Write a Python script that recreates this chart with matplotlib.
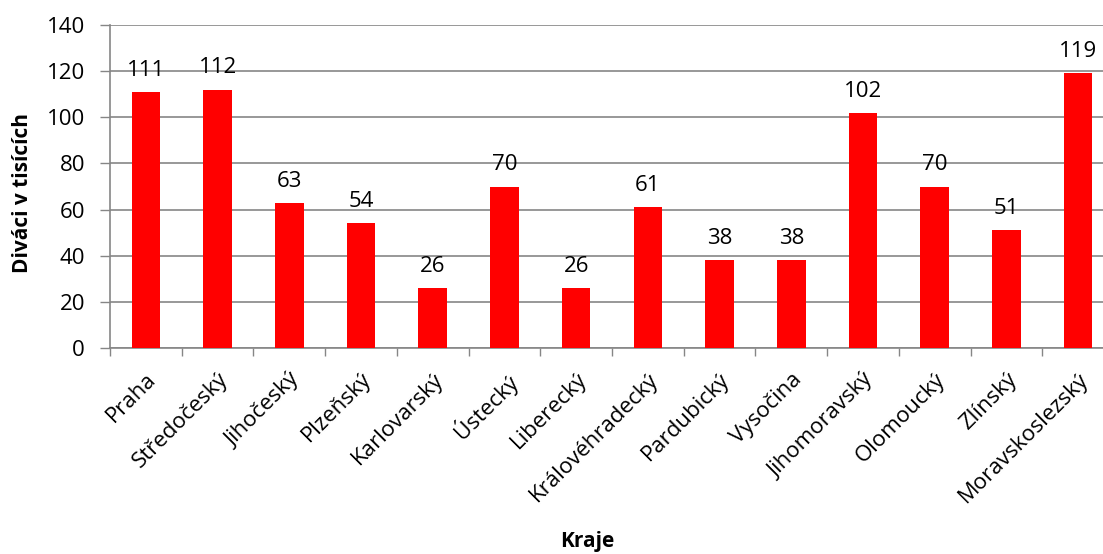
import numpy as np
import matplotlib
matplotlib.use("Agg")
import matplotlib.pyplot as plt

plt.rcParams['font.family'] = ['Open Sans', 'DejaVu Sans']

kraje = ["Praha", "Středočeský", "Jihočeský", "Plzeňský", "Karlovarský", "Ústecký",
         "Liberecký", "Královéhradecký", "Pardubický", "Vysočina", "Jihomoravský",
         "Olomoucký", "Zlínský", "Moravskoslezský"]
divaci = [111, 112, 63, 54, 26, 70, 26, 61, 38, 38, 102, 70, 51, 119]
y_ticks = [0, 20, 40, 60, 80, 100, 120, 140]

W, H = 1103, 554
fig = plt.figure(figsize=(W / 100, H / 100), dpi=100)
ax = fig.add_axes([110 / W, (H - 348) / H, (1114 - 110) / W, (348 - 25) / H])

x = np.arange(len(kraje))
bars = ax.bar(x, divaci, width=0.4, color='#ff0000', zorder=3)

for xi, v in zip(x, divaci):
    ax.annotate(str(v), (xi, v), xytext=(0, 8), textcoords='offset points',
                ha='center', va='bottom', fontsize=16, zorder=4)

ax.set_xlim(-0.5, len(kraje) - 0.5)
ax.set_ylim(0, 140)
ax.set_yticks(y_ticks)
ax.tick_params(axis='y', labelsize=16, length=7, width=1, color='#868686', pad=11)
ax.yaxis.grid(True, color='#868686', linewidth=1.2, zorder=0)

ax.set_xticks(x)
ax.set_xticklabels(kraje, rotation=45, ha='right', rotation_mode='anchor', fontsize=16)
ax.tick_params(axis='x', which='major', length=0, pad=15)
ax.set_xticks(np.arange(-0.5, len(kraje)), minor=True)
ax.tick_params(axis='x', which='minor', length=6, width=1, color='#868686')

for s in ['top', 'right']:
    ax.spines[s].set_visible(False)
for s in ['left', 'bottom']:
    ax.spines[s].set_color('#868686')
    ax.spines[s].set_linewidth(1.2)

ax.set_ylabel("Diváci v tisících", fontsize=15, fontweight='bold')
ax.yaxis.set_label_coords(-0.077, 0.48)
fig.text(587 / W, 1 - 541 / H, "Kraje", fontsize=15, fontweight='bold', ha='center', va='center')

fig.savefig("out.png", dpi=100)
